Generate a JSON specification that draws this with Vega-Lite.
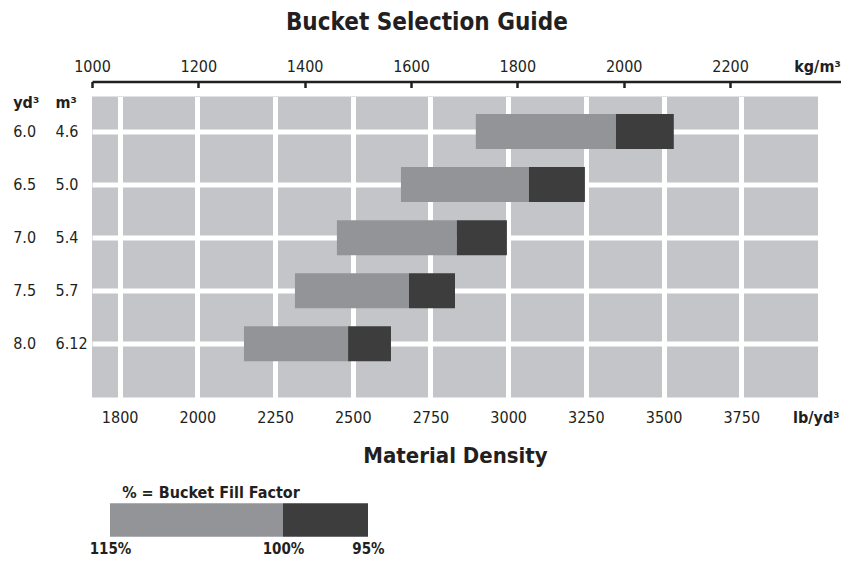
{
  "$schema": "https://vega.github.io/schema/vega-lite/v6.json",
  "padding": {"left": 12, "top": 10.5, "right": 0, "bottom": 0},
  "title": {"text": "Bucket Selection Guide", "anchor": "middle", "fontSize": 24, "fontWeight": "bold", "offset": 23.5},
  "spacing": 18,
  "config": {
    "font": "Liberation Sans Narrow, DejaVu Sans Condensed, Roboto Condensed, Liberation Sans, sans-serif",
    "title": {"font": "Liberation Sans Narrow, DejaVu Sans Condensed, Roboto Condensed, Liberation Sans, sans-serif", "color": "#231f20"},
    "axis": {"labelFont": "Liberation Sans Narrow, DejaVu Sans Condensed, Roboto Condensed, Liberation Sans, sans-serif", "titleFont": "Liberation Sans Narrow, DejaVu Sans Condensed, Roboto Condensed, Liberation Sans, sans-serif", "labelColor": "#231f20", "titleColor": "#231f20", "labelFontSize": 16}
  },
  "vconcat": [
    {
      "width": 726,
      "height": 301,
      "view": {"fill": "#c4c5c9", "stroke": null},
      "layer": [
        {
          "data": {"values": [
            {"yd3": 6.0, "m3": "4.6", "d115": 2896, "d100": 3347, "d95": 3533},
            {"yd3": 6.5, "m3": "5.0", "d115": 2655, "d100": 3067, "d95": 3247},
            {"yd3": 7.0, "m3": "5.4", "d115": 2449, "d100": 2835, "d95": 2996},
            {"yd3": 7.5, "m3": "5.7", "d115": 2314, "d100": 2681, "d95": 2829},
            {"yd3": 8.0, "m3": "6.12", "d115": 2150, "d100": 2485, "d95": 2623}
          ]},
          "layer": [
            {
              "mark": {"type": "bar", "size": 35, "color": "#939498"},
              "encoding": {
                "x": {"field": "d115", "type": "quantitative",
                  "scale": {"domain": [1661, 3997], "nice": false, "zero": false},
                  "axis": {"title": "Material Density", "titleFontSize": 22, "titleFontWeight": "bold", "titlePadding": 20,
                    "values": [1750, 2000, 2250, 2500, 2750, 3000, 3250, 3500, 3750, 3990],
                    "format": "d",
                    "labelExpr": "datum.value == 1750 ? '1800' : datum.value == 3990 ? 'lb/yd³' : datum.label",
                    "labelFontWeight": {"condition": {"test": "datum.value == 3990", "value": "bold"}, "value": "normal"},
                    "domain": false, "ticks": false, "labelPadding": 12, "labelFlush": false,
                    "grid": true, "gridColor": "white", "gridWidth": 5,
                    "gridOpacity": {"condition": {"test": "datum.value == 3990", "value": 0}, "value": 1}}},
                "x2": {"field": "d100"},
                "y": {"field": "yd3", "type": "quantitative",
                  "scale": {"domain": [5.6703, 8.5057], "reverse": true, "nice": false, "zero": false, "padding": 0},
                  "axis": {"orient": "left", "title": null,
                    "values": [5.724, 6, 6.5, 7, 7.5, 8],
                    "labelExpr": "datum.value < 5.9 ? 'yd³' : format(datum.value, '.1f')",
                    "labelFontWeight": {"condition": {"test": "datum.value < 5.9", "value": "bold"}, "value": "normal"},
                    "labelAlign": "left", "labelPadding": 79.3, "ticks": false, "domain": false, "labelFlush": false,
                    "grid": true, "gridColor": "white", "gridWidth": 5,
                    "gridOpacity": {"condition": {"test": "datum.value < 5.9", "value": 0}, "value": 1}}}
              }
            },
            {
              "mark": {"type": "bar", "size": 35, "color": "#3d3d3d"},
              "encoding": {
                "x": {"field": "d100", "type": "quantitative"},
                "x2": {"field": "d95"},
                "y": {"field": "yd3", "type": "quantitative"}
              }
            }
          ]
        },
        {
          "data": {"values": [{"kg": 1000}, {"kg": 2200}]},
          "mark": {"type": "rule", "opacity": 0},
          "encoding": {
            "x": {"field": "kg", "type": "quantitative",
              "scale": {"domain": [1000, 2408.7], "range": [0, 749], "nice": false, "zero": false},
              "axis": {"orient": "top", "title": null, "offset": 15,
                "values": [1000, 1200, 1400, 1600, 1800, 2000, 2200, 2363.5],
                "format": "d",
                "labelExpr": "datum.value > 2300 ? 'kg/m³' : datum.label",
                "labelFontWeight": {"condition": {"test": "datum.value > 2300", "value": "bold"}, "value": "normal"},
                "domain": true, "domainColor": "#231f20", "domainWidth": 2.5,
                "ticks": true, "tickColor": "#231f20", "tickWidth": 2.5, "tickSize": -6,
                "tickOpacity": {"condition": {"test": "datum.value > 2300", "value": 0}, "value": 1},
                "labelPadding": 13.5, "labelFlush": false, "grid": false}}
          }
        },
        {
          "data": {"values": [
            {"yd3": 6.0, "m3": "4.6"},
            {"yd3": 6.5, "m3": "5.0"},
            {"yd3": 7.0, "m3": "5.4"},
            {"yd3": 7.5, "m3": "5.7"},
            {"yd3": 8.0, "m3": "6.12"}
          ]},
          "mark": {"type": "point", "opacity": 0},
          "encoding": {
            "y": {"field": "yd3", "type": "quantitative",
              "scale": {"domain": [5.6703, 8.5057], "reverse": true, "nice": false, "zero": false, "padding": 0},
              "axis": {"orient": "left", "title": null,
                "values": [5.724, 6, 6.5, 7, 7.5, 8],
                "labelExpr": "datum.value < 5.9 ? 'm³' : datum.value == 6 ? '4.6' : datum.value == 6.5 ? '5.0' : datum.value == 7 ? '5.4' : datum.value == 7.5 ? '5.7' : '6.12'",
                "labelFontWeight": {"condition": {"test": "datum.value < 5.9", "value": "bold"}, "value": "normal"},
                "labelAlign": "left", "labelPadding": 37, "ticks": false, "domain": false, "grid": false, "labelFlush": false}}
          }
        }
      ],
      "resolve": {"scale": {"x": "independent", "y": "independent"}}
    },
    {
      "width": 276,
      "height": 37,
      "view": {"fill": null, "stroke": null},
      "title": {"text": "% = Bucket Fill Factor", "anchor": "start", "dx": 33, "fontSize": 16, "fontWeight": "bold", "offset": 1},
      "data": {"values": [
        {"segment": "115% to 100%", "from": 0, "to": 67.05},
        {"segment": "100% to 95%", "from": 67.05, "to": 100}
      ]},
      "mark": {"type": "bar"},
      "encoding": {
        "x": {"field": "from", "type": "quantitative",
          "scale": {"domain": [-6.98, 100], "nice": false, "zero": false},
          "axis": {"values": [0, 67.05, 100],
            "labelExpr": "datum.value == 0 ? '115%' : datum.value == 100 ? '95%' : '100%'",
            "labelFontWeight": "bold", "labelFontSize": 15, "domain": false, "ticks": false, "grid": false, "title": null,
            "labelPadding": 3, "labelFlush": false}},
        "x2": {"field": "to"},
        "color": {"field": "segment", "type": "nominal",
          "scale": {"domain": ["115% to 100%", "100% to 95%"], "range": ["#939498", "#3d3d3d"]},
          "legend": null}
      }
    }
  ]
}
